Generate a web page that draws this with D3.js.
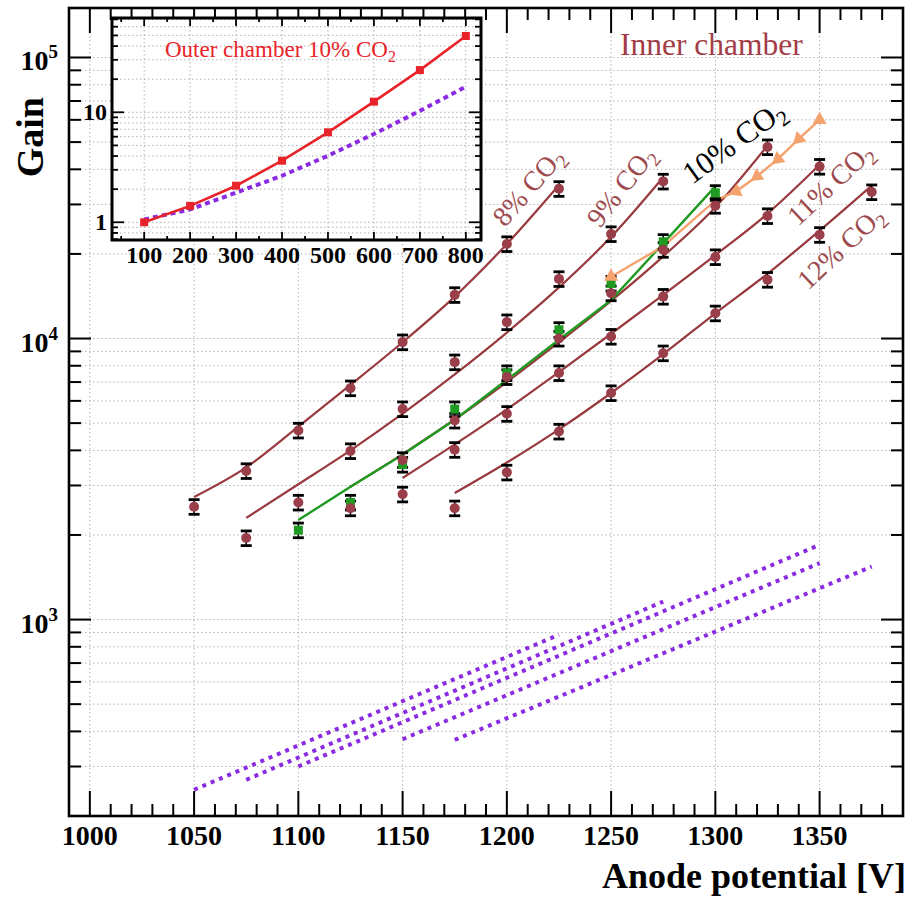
<!DOCTYPE html>
<html>
<head>
<meta charset="utf-8">
<script src="https://cdn.jsdelivr.net/npm/d3@7"></script>
<style>
  body { margin: 0; background: #fff; }
  svg { display: block; }
  text { font-family: "Liberation Serif", "Times New Roman", serif; }
</style>
</head>
<body>
<svg id="chart" width="912" height="898"></svg>
<script>
// ---- Inner chamber: measured gain per CO2 fraction ----
const seriesNames = ["8%", "9%", "10%", "11%", "12%"];

const measV8  = [1050, 1075, 1100, 1125, 1150, 1175, 1200, 1225];
const meas8   = [2520, 3380, 4710, 6660, 9710, 14300, 21700, 34100];
const measV9  = [1075, 1100, 1125, 1150, 1175, 1200, 1225, 1250, 1275];
const meas9   = [1950, 2610, 3980, 5610, 8240, 11440, 16300, 23550, 36230];
const measV10 = [1125, 1150, 1175, 1200, 1225, 1250, 1275, 1300, 1325];
const meas10  = [2490, 3700, 5110, 7300, 10000, 14500, 20700, 29700, 48000];
const measV11 = [1150, 1175, 1200, 1225, 1250, 1275, 1300, 1325, 1350];
const meas11  = [2790, 4020, 5400, 7540, 10160, 14100, 19500, 27300, 40900];
const measV12 = [1175, 1200, 1225, 1250, 1275, 1300, 1325, 1350, 1375];
const meas12  = [2490, 3340, 4670, 6400, 8870, 12300, 16200, 23400, 33200];

// fitted gain curves, sampled at the same potentials
const fit8  = [2730, 3480, 4860, 6840, 9700, 14100, 21700, 35200];
const fit9  = [2300, 3030, 4000, 5400, 7450, 10500, 15200, 23000, 37500];
const fit10 = [2970, 3880, 5150, 7000, 9700, 13600, 19600, 29300, 48500];
const fit11 = [3190, 4200, 5600, 7600, 10400, 14300, 19800, 27800, 41500];
const fit12 = [2820, 3620, 4750, 6400, 8800, 12300, 17000, 24200, 35000];

// second 10% CO2 run (green)
const greenV    = [1100, 1125, 1150, 1175, 1200, 1225, 1250, 1275, 1300];
const greenMeas = [2080, 2610, 3560, 5610, 7540, 10740, 15700, 22100, 33000];
const greenLine = [2260, 2970, 3860, 5140, 7130, 9900, 13700, 21800, 34800];

// potential scan (orange)
const orangeV    = [1250, 1275, 1300, 1310, 1320, 1330, 1340, 1350];
const orangeGain = [16600, 21300, 31000, 33400, 37800, 43500, 51300, 60000];
const orangeMarked = [true, false, false, true, true, true, true, true];

// simulated gain (purple dotted), start and end of each range
const simV8  = [1050, 1225]; const sim8  = [248, 883];
const simV9  = [1075, 1275]; const sim9  = [269, 1159];
const simV10 = [1100, 1350]; const sim10 = [300, 1845];
const simV11 = [1150, 1350]; const sim11 = [375, 1588];
const simV12 = [1175, 1375]; const sim12 = [373, 1544];

// ---- Outer chamber, 10% CO2 (inset) ----
const outerX    = [100, 200, 300, 400, 500, 600, 700, 800];
const outerMeas = [1.0, 1.41, 2.15, 3.63, 6.58, 12.5, 24.2, 49.4];
const outerSim  = [1.06, 1.31, 1.86, 2.65, 4.03, 6.35, 10.3, 17.1];

// ---- axis ticks ----
const xMajorTicks = [1000, 1050, 1100, 1150, 1200, 1250, 1300, 1350];
const yLabelTicks = [1e3, 1e4, 1e5];
const insetXTicks = [100, 200, 300, 400, 500, 600, 700, 800];
const insetYLabels = [1, 10];

const relErr = 0.06;

// ---------------------------------------------------------------
const svg = d3.select("#chart");
const L = 69, R = 903, T = 8, B = 816;
const x = d3.scaleLinear().domain([990, 1390]).range([L, R]);
const y = d3.scaleLog().domain([200, 1.5e5]).range([B, T]);

const C_FIT = "#983a3e", C_PT = "#9a3e4a", C_LAB = "#9e4a4e";
const C_GREEN = "#1f9a22", C_ORANGE = "#f5a36e", C_PURPLE = "#8a2be2";

function logTicks(lo, hi) {
  const out = [];
  for (let e = -2; e <= 6; e++) for (let k = 1; k < 10; k++) {
    const v = k * Math.pow(10, e);
    if (v >= lo * 0.9999 && v <= hi * 1.0001) out.push(+v.toPrecision(6));
  }
  return out;
}
const isDecade = v => Math.abs(Math.log10(v) - Math.round(Math.log10(v))) < 1e-9;

const xMinor = d3.range(990, 1391, 10).filter(v => v % 50 !== 0);
const yAll = logTicks(200, 1.5e5);

// grid
const grid = svg.append("g").attr("stroke", "#b2b2b2").attr("stroke-width", 1)
  .attr("stroke-dasharray", "1.5,2.5").attr("fill", "none");
grid.selectAll(".gx").data(xMajorTicks).join("line")
  .attr("x1", d => x(d)).attr("x2", d => x(d)).attr("y1", T).attr("y2", B);
grid.selectAll(".gy").data(yAll).join("line")
  .attr("x1", L).attr("x2", R).attr("y1", d => y(d)).attr("y2", d => y(d));

const plot = svg.append("g");

// simulated curves
const simSets = [[simV8, sim8], [simV9, sim9], [simV10, sim10], [simV11, sim11], [simV12, sim12]];
const lineXY = d3.line().x(d => x(d[0])).y(d => y(d[1]));
plot.selectAll(".sim").data(simSets).join("path")
  .attr("d", s => lineXY(d3.zip(s[0], s[1])))
  .attr("fill", "none").attr("stroke", C_PURPLE).attr("stroke-width", 4)
  .attr("stroke-dasharray", "4,5");

// fit curves
const fitSets = [[measV8, fit8], [measV9, fit9], [measV10, fit10], [measV11, fit11], [measV12, fit12]];
const smooth = d3.line().x(d => x(d[0])).y(d => y(d[1])).curve(d3.curveMonotoneX);
plot.selectAll(".fit").data(fitSets).join("path")
  .attr("d", s => smooth(d3.zip(s[0], s[1])))
  .attr("fill", "none").attr("stroke", C_FIT).attr("stroke-width", 2.2);

// green and orange polylines
plot.append("path").attr("d", lineXY(d3.zip(greenV, greenLine)))
  .attr("fill", "none").attr("stroke", C_GREEN).attr("stroke-width", 2.4);
plot.append("path").attr("d", lineXY(d3.zip(orangeV, orangeGain)))
  .attr("fill", "none").attr("stroke", C_ORANGE).attr("stroke-width", 2.4);

// error bars
function errorBars(g, xs, vs) {
  const pts = d3.zip(xs, vs);
  const eg = g.append("g").attr("stroke", "#000");
  eg.selectAll(".ev").data(pts).join("line")
    .attr("x1", d => x(d[0])).attr("x2", d => x(d[0]))
    .attr("y1", d => y(d[1] * (1 - relErr))).attr("y2", d => y(d[1] * (1 + relErr)))
    .attr("stroke-width", 1.5);
  [1 - relErr, 1 + relErr].forEach(f => {
    eg.selectAll(null).data(pts).join("line")
      .attr("x1", d => x(d[0]) - 5.5).attr("x2", d => x(d[0]) + 5.5)
      .attr("y1", d => y(d[1] * f)).attr("y2", d => y(d[1] * f))
      .attr("stroke-width", 2.8);
  });
}
const measSets = [[measV8, meas8], [measV9, meas9], [measV10, meas10], [measV11, meas11], [measV12, meas12]];
measSets.forEach(s => errorBars(plot, s[0], s[1]));
errorBars(plot, greenV, greenMeas);

plot.selectAll(".sq").data(d3.zip(greenV, greenMeas)).join("rect")
  .attr("x", d => x(d[0]) - 4.5).attr("y", d => y(d[1]) - 4.5)
  .attr("width", 9).attr("height", 9).attr("fill", C_GREEN);

measSets.forEach(s => {
  plot.selectAll(null).data(d3.zip(s[0], s[1])).join("circle")
    .attr("cx", d => x(d[0])).attr("cy", d => y(d[1])).attr("r", 5)
    .attr("fill", C_PT);
});

// orange markers: arrow-like triangles along the scan
const tri = d3.symbol(d3.symbolTriangle, 85);
plot.selectAll(".tri").data(orangeV.map((v, i) => i).filter(i => orangeMarked[i])).join("path")
  .attr("d", tri)
  .attr("fill", C_ORANGE)
  .attr("transform", i => {
    const px = x(orangeV[i]), py = y(orangeGain[i]);
    let rot = 0;
    if (i > 0 && i < orangeV.length - 1) {
      const dx = x(orangeV[i - 1]) - px, dy = y(orangeGain[i - 1]) - py;
      rot = Math.atan2(dy, dx) * 180 / Math.PI + 90;
    }
    return `translate(${px},${py}) rotate(${rot})`;
  });

// series labels
const labelPos = [
  { name: seriesNames[0], x: 505, y: 228, a: -49, c: C_LAB, s: 28 },
  { name: seriesNames[1], x: 600, y: 229, a: -52, c: C_LAB, s: 28 },
  { name: seriesNames[2], x: 692, y: 185, a: -36, c: "#000", s: 31 },
  { name: seriesNames[3], x: 798, y: 227, a: -43, c: C_LAB, s: 28 },
  { name: seriesNames[4], x: 808, y: 291, a: -43, c: C_LAB, s: 28 }
];
labelPos.forEach(p => {
  const t = svg.append("text").attr("transform", `translate(${p.x},${p.y}) rotate(${p.a})`)
    .attr("fill", p.c).attr("font-size", p.s);
  t.append("tspan").text(p.name + " CO");
  t.append("tspan").text("2").attr("font-size", p.s * 0.7).attr("dy", p.s * 0.22);
});

svg.append("text").attr("x", 620).attr("y", 55).attr("font-size", 31.5)
  .attr("fill", "#a33c46").text("Inner chamber");

// frame and ticks
svg.append("rect").attr("x", L).attr("y", T).attr("width", R - L).attr("height", B - T)
  .attr("fill", "none").attr("stroke", "#000").attr("stroke-width", 2.6);
const tk = svg.append("g").attr("stroke", "#000").attr("stroke-width", 2);
const xT = xMajorTicks.map(v => [v, 25]).concat(xMinor.map(v => [v, 12]));
tk.selectAll(".xb").data(xT).join("line")
  .attr("x1", d => x(d[0])).attr("x2", d => x(d[0])).attr("y1", B).attr("y2", d => B - d[1]);
tk.selectAll(".xt").data(xT).join("line")
  .attr("x1", d => x(d[0])).attr("x2", d => x(d[0])).attr("y1", T).attr("y2", d => T + d[1]);
const yT = yAll.map(v => [v, isDecade(v) ? 22 : 12]);
tk.selectAll(".yl").data(yT).join("line")
  .attr("x1", L).attr("x2", d => L + d[1]).attr("y1", d => y(d[0])).attr("y2", d => y(d[0]));
tk.selectAll(".yr").data(yT).join("line")
  .attr("x1", R).attr("x2", d => R - d[1]).attr("y1", d => y(d[0])).attr("y2", d => y(d[0]));

svg.selectAll(".xl").data(xMajorTicks).join("text")
  .attr("x", d => x(d)).attr("y", 845).attr("text-anchor", "middle")
  .attr("font-size", 28).attr("font-weight", "bold").text(d => d);

yLabelTicks.forEach(v => {
  const t = svg.append("text").attr("x", 58).attr("y", y(v) + 13).attr("text-anchor", "end")
    .attr("font-size", 28).attr("font-weight", "bold");
  t.append("tspan").text("10");
  t.append("tspan").text(Math.round(Math.log10(v))).attr("font-size", 19).attr("dy", -12);
});

svg.append("text").attr("x", 906).attr("y", 888).attr("text-anchor", "end")
  .attr("font-size", 36).attr("font-weight", "bold").text("Anode potential [V]");
svg.append("text").attr("transform", "translate(43,97) rotate(-90)").attr("text-anchor", "end")
  .attr("font-size", 38).attr("font-weight", "bold").text("Gain");

// ---- inset ----
const IL = 112, IR = 481, IT = 18, IB = 240;
const xi = d3.scaleLinear().domain([30, 833]).range([IL, IR]);
const yi = d3.scaleLog().domain([0.69, 72]).range([IB, IT]);
const inset = svg.append("g");
inset.append("rect").attr("x", IL).attr("y", IT).attr("width", IR - IL).attr("height", IB - IT)
  .attr("fill", "#fff");
const yiAll = logTicks(0.69, 72);
const ig = inset.append("g").attr("stroke", "#b2b2b2").attr("stroke-width", 1)
  .attr("stroke-dasharray", "1.5,2.5");
ig.selectAll(".gx").data(insetXTicks).join("line")
  .attr("x1", d => xi(d)).attr("x2", d => xi(d)).attr("y1", IT).attr("y2", IB);
ig.selectAll(".gy").data(yiAll).join("line")
  .attr("x1", IL).attr("x2", IR).attr("y1", d => yi(d)).attr("y2", d => yi(d));

const lineI = d3.line().x(d => xi(d[0])).y(d => yi(d[1]));
inset.append("path").attr("d", lineI(d3.zip(outerX, outerSim)))
  .attr("fill", "none").attr("stroke", C_PURPLE).attr("stroke-width", 4).attr("stroke-dasharray", "5,4");
inset.append("path").attr("d", lineI(d3.zip(outerX, outerMeas)))
  .attr("fill", "none").attr("stroke", "#e8232a").attr("stroke-width", 2.6);
inset.selectAll(".rq").data(d3.zip(outerX, outerMeas)).join("rect")
  .attr("x", d => xi(d[0]) - 4).attr("y", d => yi(d[1]) - 4).attr("width", 8).attr("height", 8)
  .attr("fill", "#e8232a");

const it = inset.append("g").attr("stroke", "#000").attr("stroke-width", 1.8);
const xiT = insetXTicks.map(v => [v, 8]).concat(d3.range(50, 833, 100).map(v => [v, 4]));
it.selectAll(".xb").data(xiT).join("line")
  .attr("x1", d => xi(d[0])).attr("x2", d => xi(d[0])).attr("y1", IB).attr("y2", d => IB - d[1]);
it.selectAll(".xt").data(xiT).join("line")
  .attr("x1", d => xi(d[0])).attr("x2", d => xi(d[0])).attr("y1", IT).attr("y2", d => IT + d[1]);
const yiT = yiAll.map(v => [v, isDecade(v) ? 12 : 6]);
it.selectAll(".yl").data(yiT).join("line")
  .attr("x1", IL).attr("x2", d => IL + d[1]).attr("y1", d => yi(d[0])).attr("y2", d => yi(d[0]));
it.selectAll(".yr").data(yiT).join("line")
  .attr("x1", IR).attr("x2", d => IR - d[1]).attr("y1", d => yi(d[0])).attr("y2", d => yi(d[0]));
inset.append("rect").attr("x", IL).attr("y", IT).attr("width", IR - IL).attr("height", IB - IT)
  .attr("fill", "none").attr("stroke", "#000").attr("stroke-width", 3);

inset.selectAll(".ixl").data(insetXTicks).join("text")
  .attr("x", d => xi(d)).attr("y", 263).attr("text-anchor", "middle")
  .attr("font-size", 24).attr("font-weight", "bold").text(d => d);
inset.selectAll(".iyl").data(insetYLabels).join("text")
  .attr("x", 107).attr("y", d => yi(d) + 8).attr("text-anchor", "end")
  .attr("font-size", 24).attr("font-weight", "bold").text(d => d);

const ot = inset.append("text").attr("x", 165).attr("y", 57).attr("font-size", 23).attr("fill", "#e8232a");
ot.append("tspan").text("Outer chamber 10% CO");
ot.append("tspan").text("2").attr("font-size", 16).attr("dy", 5);
</script>
</body>
</html>
